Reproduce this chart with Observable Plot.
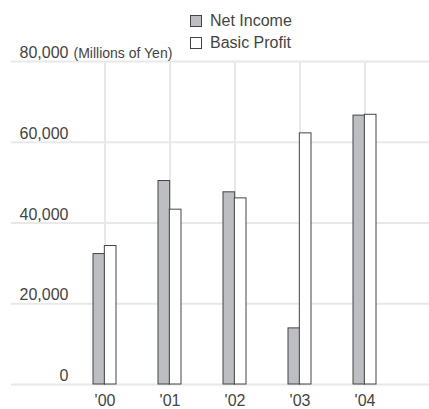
<!DOCTYPE html>
<html>
<head>
<meta charset="utf-8">
<script src="https://cdn.jsdelivr.net/npm/d3@7"></script>
<script src="https://cdn.jsdelivr.net/npm/@observablehq/plot@0.6"></script>
<style>
  html, body { margin: 0; padding: 0; background: #fff; }
  #wrap { position: relative; width: 429px; height: 409px; font-family: "Liberation Sans", Arial, Helvetica, sans-serif; }
  #legend { position: absolute; left: 190px; top: 10px; color: #444; font-size: 16px; }
  .item { display: flex; align-items: center; height: 22px; }
  .sw { width: 10px; height: 10px; border: 1px solid #444; margin-right: 8px; box-sizing: content-box; }
</style>
</head>
<body>
<div id="wrap"></div>
<script>
const years = ["'00", "'01", "'02", "'03", "'04"];
const netIncome = [32300, 50400, 47600, 13900, 66600];
const basicProfit = [34300, 43300, 46100, 62200, 66800];
const seriesNames = ["Net Income", "Basic Profit"];
const seriesColors = ["#bdbec2", "#ffffff"];
const yTicks = [0, 20000, 40000, 60000, 80000];
const unitLabel = "(Millions of Yen)";

const netData = years.map((year, i) => ({year, value: netIncome[i]}));
const basicData = years.map((year, i) => ({year, value: basicProfit[i]}));
const fmt = d3.format(",");

const chart = Plot.plot({
  width: 429,
  height: 409,
  marginTop: 61,
  marginBottom: 25,
  marginLeft: 11,
  marginRight: 0,
  style: {fontFamily: "'Liberation Sans', Arial, Helvetica, sans-serif", color: "#444", background: "transparent"},
  x: {type: "band", domain: years, range: [92.67, 376.67], paddingInner: 0.653, paddingOuter: 0, axis: null},
  y: {domain: [0, 80000], axis: null},
  marks: [
    Plot.ruleY(yTicks, {y: d => d, stroke: "#e8e8e8", strokeWidth: 2}),
    Plot.ruleX(years, {x: d => d, y1: 0, y2: 80000, stroke: "#e8e8e8", strokeWidth: 2}),
    Plot.barY(netData, {x: "year", y: "value", fill: seriesColors[0], stroke: "#444", strokeWidth: 1, insetRight: 11.33}),
    Plot.barY(basicData, {x: "year", y: "value", fill: seriesColors[1], stroke: "#444", strokeWidth: 1, insetLeft: 11.33}),
    Plot.text(yTicks, {y: d => d, text: d => fmt(d), frameAnchor: "left", dx: 57, dy: -8.6, textAnchor: "end", fontSize: 16, fill: "#444"}),
    Plot.text([80000], {y: d => d, text: () => unitLabel, frameAnchor: "left", dx: 62, dy: -8, textAnchor: "start", fontSize: 14, fill: "#444"}),
    Plot.text(years, {x: d => d, y: 0, text: d => d, dy: 16.5, fontSize: 16, fill: "#444"})
  ]
});

const wrap = document.getElementById("wrap");
wrap.appendChild(chart);

const legend = document.createElement("div");
legend.id = "legend";
seriesNames.forEach((name, i) => {
  const item = document.createElement("div");
  item.className = "item";
  const sw = document.createElement("div");
  sw.className = "sw";
  sw.style.background = seriesColors[i];
  const label = document.createElement("span");
  label.textContent = name;
  item.appendChild(sw);
  item.appendChild(label);
  legend.appendChild(item);
});
wrap.appendChild(legend);
</script>
</body>
</html>
